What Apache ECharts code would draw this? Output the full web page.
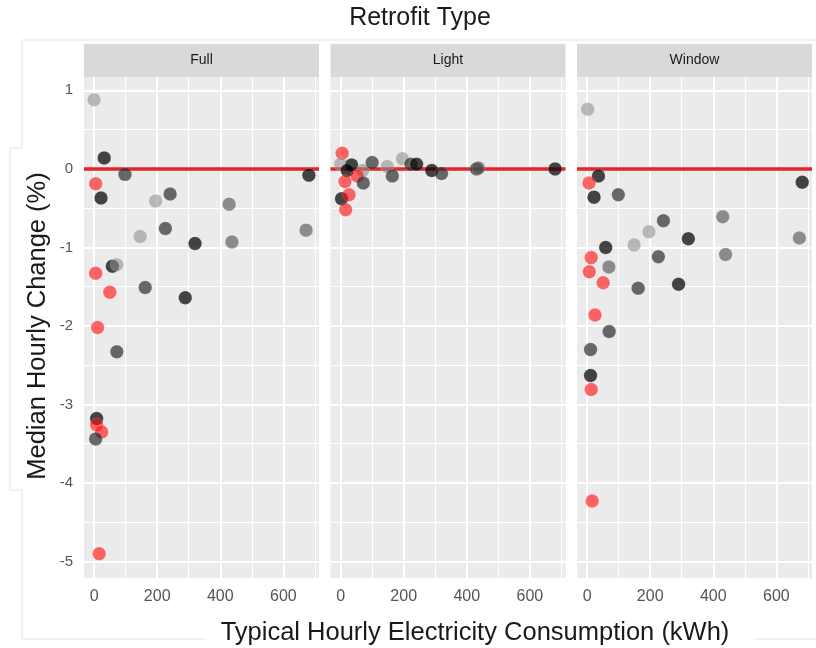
<!DOCTYPE html>
<html>
<head>
<meta charset="utf-8">
<script src="https://cdn.jsdelivr.net/npm/echarts@6/dist/echarts.min.js"></script>
<style>
html,body{margin:0;padding:0;background:#fff;}
#chart{width:816px;height:648px;}
</style>
</head>
<body>
<div id="chart"></div>
<script>
// ---- data ----
const panels = ['Full', 'Light', 'Window'];

const fullX = [0,32,98,5,22,241,195,428,681,226,146,320,437,672,58,72,5,50,162,289,11,72,8,8,24,5,16];
const fullY = [0.88,0.14,-0.07,-0.19,-0.37,-0.32,-0.41,-0.45,-0.08,-0.76,-0.86,-0.95,-0.93,-0.78,-1.24,-1.22,-1.33,-1.57,-1.51,-1.64,-2.02,-2.33,-3.18,-3.26,-3.35,-3.44,-4.9];
const fullTone = ['light','black','dark','red','black','dark','light','grey','black','dark','light','black','grey','grey','black','light','red','red','dark','black','red','dark','black','red','red','dark','red'];

const lightX = [5,0,35,21,70,53,14,72,100,148,164,196,223,241,289,320,431,437,680,3,27,16];
const lightY = [0.2,0.06,0.05,-0.02,-0.02,-0.09,-0.16,-0.18,0.08,0.03,-0.09,0.13,0.06,0.06,-0.02,-0.06,0.0,0.01,0.0,-0.38,-0.33,-0.52];
const lightTone = ['red','light','black','black','light','red','red','dark','dark','light','dark','light','dark','black','black','dark','dark','grey','black','black','red','red'];

const windowX = [2,36,6,22,99,682,242,430,196,149,321,673,59,226,439,13,69,7,51,162,290,25,70,11,11,13,16];
const windowY = [0.76,-0.09,-0.18,-0.36,-0.33,-0.17,-0.66,-0.61,-0.8,-0.97,-0.89,-0.88,-1.0,-1.12,-1.09,-1.13,-1.25,-1.31,-1.45,-1.52,-1.47,-1.86,-2.07,-2.3,-2.63,-2.81,-4.23];
const windowTone = ['light','black','red','black','dark','black','dark','grey','light','light','black','grey','black','dark','grey','red','grey','red','red','dark','black','red','dark','dark','black','red','red'];

const xTicks = [0, 200, 400, 600];
const xMinorGrid = [100, 300, 500, 700];
const yTicks = [-5, -4, -3, -2, -1, 0, 1];
const yMinorGrid = [-4.5, -3.5, -2.5, -1.5, -0.5, 0.5];
const refLineY = 0;

// ---- styling ----
const toneColor = {
  red:   'rgba(255,15,15,0.78)',
  black: 'rgba(5,5,5,0.92)',
  dark:  'rgba(40,40,40,0.85)',
  grey:  'rgba(85,85,85,0.8)',
  light: 'rgba(140,140,140,0.72)'
};
const FONT = "'Liberation Sans', Arial, sans-serif";
const xRange = [-32, 713];
const yRange = [-5.21, 1.17];
const gridLefts = [84, 330.5, 577];
const gridTop = 77, gridW = 235, gridH = 501;

const panelData = [
  [fullX, fullY, fullTone],
  [lightX, lightY, lightTone],
  [windowX, windowY, windowTone]
];

const grids = [], xAxes = [], yAxes = [], series = [], graphics = [];

panels.forEach((name, i) => {
  grids.push({left: gridLefts[i], top: gridTop, width: gridW, height: gridH,
    show: true, backgroundColor: '#EBEBEB', borderWidth: 0, containLabel: false});
  xAxes.push({type: 'value', gridIndex: i, min: xRange[0], max: xRange[1],
    axisLine: {show: false}, splitLine: {show: false},
    axisTick: {show: true, customValues: xTicks, length: 5, lineStyle: {color: '#333', width: 1}},
    axisLabel: {show: true, customValues: xTicks, color: '#555', fontSize: 16, fontFamily: FONT, margin: 11}
  });
  yAxes.push({type: 'value', gridIndex: i, min: yRange[0], max: yRange[1],
    axisLine: {show: false}, splitLine: {show: false},
    axisTick: {show: i === 0, customValues: yTicks, length: 5, lineStyle: {color: '#333', width: 1}},
    axisLabel: {show: i === 0, customValues: yTicks, color: '#555', fontSize: 15, fontFamily: FONT, margin: 11}
  });
  const gl = [];
  xTicks.forEach(v => gl.push({xAxis: v, lineStyle: {color: '#fff', width: 2, type: 'solid'}}));
  xMinorGrid.forEach(v => gl.push({xAxis: v, lineStyle: {color: '#fff', width: 1, type: 'solid'}}));
  yTicks.forEach(v => gl.push({yAxis: v, lineStyle: {color: '#fff', width: 2, type: 'solid'}}));
  yMinorGrid.forEach(v => gl.push({yAxis: v, lineStyle: {color: '#fff', width: 1, type: 'solid'}}));
  series.push({type: 'line', xAxisIndex: i, yAxisIndex: i, data: [], z: 1, silent: true,
    markLine: {z: 1, silent: true, symbol: ['none', 'none'], label: {show: false}, animation: false,
      emphasis: {disabled: true}, data: gl}});
  series.push({type: 'line', xAxisIndex: i, yAxisIndex: i, data: [], z: 2, silent: true,
    markLine: {z: 2, silent: true, symbol: ['none', 'none'], label: {show: false}, animation: false,
      emphasis: {disabled: true},
      data: [{yAxis: refLineY, lineStyle: {color: '#E3242B', width: 3.5, type: 'solid'}}]}});
  const [xs, ys, ts] = panelData[i];
  series.push({type: 'scatter', xAxisIndex: i, yAxisIndex: i, z: 10, symbolSize: 13.5,
    data: xs.map((x, k) => ({value: [x, ys[k]], itemStyle: {color: toneColor[ts[k]]}})),
    itemStyle: {borderColor: 'rgba(255,255,255,0.35)', borderWidth: 0.6}
  });
  // facet strip
  graphics.push({type: 'rect', shape: {x: gridLefts[i], y: 44, width: gridW, height: gridTop - 44},
    style: {fill: '#D9D9D9'}, z: 0, silent: true});
  graphics.push({type: 'text', x: gridLefts[i] + gridW / 2, y: 60.5,
    style: {text: name, fill: '#1A1A1A', font: '14px ' + FONT, textAlign: 'center', textVerticalAlign: 'middle'}, z: 1});
});

// faint frame artifacts of the source
graphics.push({type: 'polyline', silent: true, z: 0,
  shape: {points: [[816, 40], [22, 40], [22, 148], [10, 148], [10, 490], [22, 490], [22, 639], [205, 639]]},
  style: {stroke: '#E2E2E2', lineWidth: 1, fill: null}});
graphics.push({type: 'line', silent: true, z: 0,
  shape: {x1: 755, y1: 639, x2: 816, y2: 639}, style: {stroke: '#E2E2E2', lineWidth: 1}});

// titles
graphics.push({type: 'text', x: 420, y: 18,
  style: {text: 'Retrofit Type', fill: '#1A1A1A', font: '25px ' + FONT, textAlign: 'center', textVerticalAlign: 'middle'}, z: 5});
graphics.push({type: 'text', x: 475, y: 633,
  style: {text: 'Typical Hourly Electricity Consumption (kWh)', fill: '#1A1A1A', font: '25.5px ' + FONT, textAlign: 'center', textVerticalAlign: 'middle'}, z: 5});
graphics.push({type: 'text', x: 38, y: 326, rotation: Math.PI / 2,
  style: {text: 'Median Hourly Change (%)', fill: '#1A1A1A', font: '25.5px ' + FONT, textAlign: 'center', textVerticalAlign: 'middle'}, z: 5});

const chart = echarts.init(document.getElementById('chart'), null, {renderer: 'canvas'});
chart.setOption({
  animation: false,
  backgroundColor: '#fff',
  grid: grids,
  xAxis: xAxes,
  yAxis: yAxes,
  series: series,
  graphic: graphics
});
</script>
</body>
</html>
